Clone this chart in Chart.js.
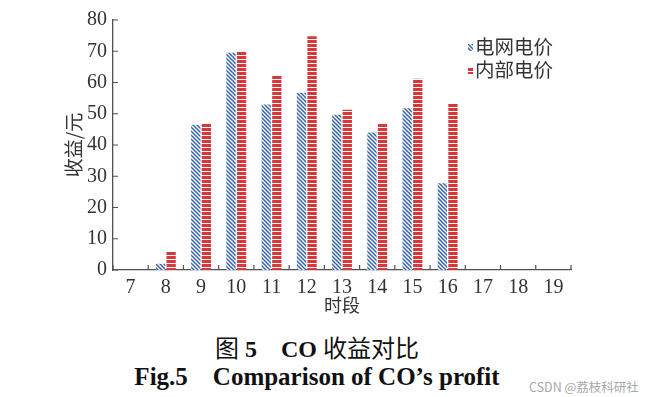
<!DOCTYPE html>
<html>
<head>
<meta charset="utf-8">
<script src="https://cdn.jsdelivr.net/npm/chart.js@4"></script>
<style>
  body { margin: 0; background: #fff; width: 650px; height: 397px; overflow: hidden; position: relative; }
  #wrap { position: absolute; left: 0; top: 0; width: 650px; height: 320px; }
  .cap { position: absolute; left: 0; width: 634px; text-align: center; color: #111; white-space: pre; }
  #cap1 { top: 329px; font: 24px "Liberation Serif", "Noto Sans CJK SC", serif; }
  #cap2 { top: 360px; font: bold 25px "Liberation Serif", serif; }
  #mark { position: absolute; left: 529px; top: 377px; font: 12.5px "Noto Sans CJK SC", sans-serif; color: #a8a8a8; }
</style>
</head>
<body>
<div id="wrap"><canvas id="chart"></canvas></div>
<div class="cap" id="cap1">图 <b>5</b>　<b>CO</b> 收益对比</div>
<div class="cap" id="cap2">Fig.5　Comparison of CO’s profit</div>
<div id="mark">CSDN @荔枝科研社</div>
<script>
var periods = ["7", "8", "9", "10", "11", "12", "13", "14", "15", "16", "17", "18", "19"];
var gridPrice = [0, 2, 46.5, 69.5, 53, 56.7, 49.7, 44, 51.8, 27.8, 0, 0, 0];
var innerPrice = [0, 6, 46.8, 70, 62.3, 74.8, 51.3, 47, 61.2, 53.4, 0, 0, 0];
var seriesNames = ["电网电价", "内部电价"];
var yTicks = [0, 10, 20, 30, 40, 50, 60, 70, 80];

function hatchPattern() {
    var c = document.createElement("canvas");
    c.width = 4; c.height = 4;
    var g = c.getContext("2d");
    g.fillStyle = "#ffffff";
    g.fillRect(0, 0, 4, 4);
    g.strokeStyle = "#3563a8";
    g.lineWidth = 1.5;
    g.beginPath();
    g.moveTo(-1, -1); g.lineTo(5, 5);
    g.moveTo(-1, 3); g.lineTo(1, 5);
    g.moveTo(3, -1); g.lineTo(5, 1);
    g.stroke();
    return g.createPattern(c, "repeat");
}

function stripePattern() {
    var c = document.createElement("canvas");
    c.width = 4; c.height = 4;
    var g = c.getContext("2d");
    g.fillStyle = "#ffffff";
    g.fillRect(0, 0, 4, 4);
    g.fillStyle = "#d8383a";
    g.fillRect(0, 0, 4, 3);
    return g.createPattern(c, "repeat");
}

var fills = [hatchPattern(), stripePattern()];
var axisColor = "#505050";
var textColor = "#333333";

// inward tick marks and the small legend in the upper right
var decor = {
    id: "decor",
    afterDraw: function (chart) {
        var ctx = chart.ctx;
        var area = chart.chartArea;
        var xs = chart.scales.x, ys = chart.scales.y;
        ctx.save();
        ctx.strokeStyle = axisColor;
        ctx.lineWidth = 1.2;
        ctx.beginPath();
        yTicks.forEach(function (v) {
            var py = ys.getPixelForValue(v);
            ctx.moveTo(area.left, py);
            ctx.lineTo(area.left + 5, py);
        });
        for (var i = 0; i <= periods.length; i++) {
            var px;
            if (i === 0) px = area.left;
            else if (i === periods.length) px = area.right;
            else px = (xs.getPixelForTick(i - 1) + xs.getPixelForTick(i)) / 2;
            ctx.moveTo(px, area.bottom);
            ctx.lineTo(px, area.bottom - 5);
        }
        ctx.stroke();

        ctx.font = '19.5px "Noto Sans CJK SC", sans-serif';
        ctx.textBaseline = "middle";
        chart.data.datasets.forEach(function (ds, k) {
            var lx = area.right - 103, ly = area.top + 27 + k * 23;
            ctx.fillStyle = ds.backgroundColor;
            ctx.fillRect(lx, ly - 3, 5, 7);
            ctx.fillStyle = textColor;
            ctx.fillText(ds.label, lx + 7, ly);
        });
        ctx.restore();
    }
};

new Chart(document.getElementById("chart"), {
    type: "bar",
    data: {
        labels: periods,
        datasets: [
            { label: seriesNames[0], data: gridPrice, backgroundColor: fills[0] },
            { label: seriesNames[1], data: innerPrice, backgroundColor: fills[1] }
        ]
    },
    options: {
        responsive: true,
        maintainAspectRatio: false,
        animation: false,
        categoryPercentage: 0.6,
        barPercentage: 0.88,
        layout: { padding: { left: 58, right: 79, top: 20, bottom: 0 } },
        plugins: {
            legend: { display: false },
            tooltip: { enabled: false }
        },
        scales: {
            x: {
                grid: { display: false, drawTicks: false, tickLength: 0 },
                border: { display: true, color: axisColor, width: 1.3 },
                ticks: {
                    color: textColor,
                    padding: 6,
                    font: { family: "Liberation Serif", size: 20 },
                    maxRotation: 0,
                    autoSkip: false
                },
                title: {
                    display: true,
                    text: "时段",
                    color: textColor,
                    padding: { top: 0, bottom: 4 },
                    font: { family: "Noto Sans CJK SC", size: 18 }
                },
                afterFit: function (scale) { scale.height = 50; }
            },
            y: {
                min: 0,
                max: 80,
                grid: { display: false, drawTicks: false, tickLength: 0 },
                border: { display: true, color: axisColor, width: 1.3 },
                ticks: {
                    stepSize: 10,
                    color: textColor,
                    padding: 6,
                    font: { family: "Liberation Serif", size: 20 }
                },
                title: {
                    display: true,
                    text: "收益/元",
                    color: textColor,
                    padding: { top: 4, bottom: 4 },
                    font: { family: "Noto Sans CJK SC", size: 19 }
                },
                afterFit: function (scale) { scale.width = 55; }
            }
        }
    },
    plugins: [decor]
});
</script>
</body>
</html>
